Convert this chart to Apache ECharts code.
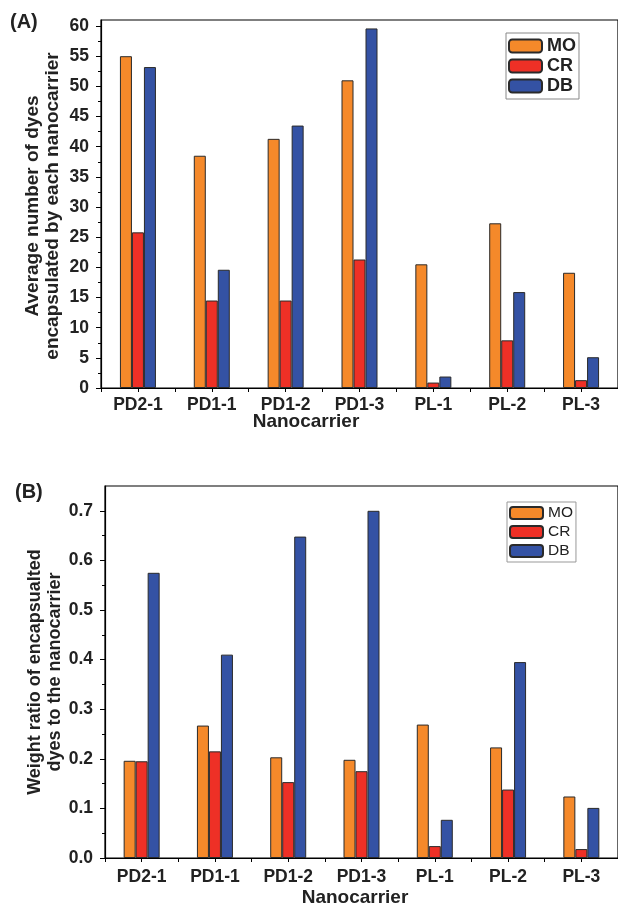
<!DOCTYPE html>
<html>
<head>
<meta charset="utf-8">
<script src="https://cdn.jsdelivr.net/npm/echarts@6/dist/echarts.min.js"></script>
<style>
html,body{margin:0;padding:0;background:#fff;}
#c{width:618px;height:910px;}
</style>
</head>
<body>
<div id="c"></div>
<script>
var categories = ['PD2-1','PD1-1','PD1-2','PD1-3','PL-1','PL-2','PL-3'];
var seriesNames = ['MO','CR','DB'];
// Panel A: average number of dyes encapsulated by each nanocarrier
var numMO = [55.0, 38.5, 41.3, 51.0, 20.5, 27.3, 19.1];
var numCR = [25.8, 14.5, 14.5, 21.3, 0.9, 7.9, 1.3];
var numDB = [53.2, 19.6, 43.5, 59.6, 1.9, 15.9, 5.1];
// Panel B: weight ratio of encapsulated dyes to the nanocarrier
var ratioMO = [0.196, 0.267, 0.203, 0.198, 0.269, 0.223, 0.124];
var ratioCR = [0.195, 0.215, 0.153, 0.175, 0.024, 0.138, 0.018];
var ratioDB = [0.575, 0.410, 0.648, 0.700, 0.077, 0.395, 0.101];
// tick labels
var ticksA = [0,5,10,15,20,25,30,35,40,45,50,55,60];
var ticksB = [0,0.1,0.2,0.3,0.4,0.5,0.6,0.7];

var colors = ['#F5892A','#EE3026','#3452A4'];
var FONT = 'Liberation Sans, Arial, sans-serif';

var chart = echarts.init(document.getElementById('c'), null, {renderer:'canvas'});

function catAxis(gridIndex, withLabels, margin){
  return {
    type:'category', gridIndex:gridIndex, data:categories, position:'bottom',
    boundaryGap:true,
    axisLine:{show:withLabels, lineStyle:{color:'#000', width:1.2}},
    axisTick:{show:true, alignWithLabel:!withLabels, length:4, lineStyle:{color:'#000', width:1}},
    axisLabel:{show:withLabels, color:'#222', fontFamily:FONT, fontWeight:'bold', fontSize:17.5, margin:margin},
    splitLine:{show:false}
  };
}
function valAxis(gridIndex, max, interval, ticks, fmt){
  return {
    type:'value', gridIndex:gridIndex, min:0, max:max, interval:interval,
    axisLine:{show:true, lineStyle:{color:'#000', width:1.2}},
    axisTick:{show:true, length:5, inside:false, customValues:ticks, lineStyle:{color:'#000', width:1}},
    minorTick:{show:true, splitNumber:2, length:3, lineStyle:{color:'#000', width:1}},
    axisLabel:{customValues:ticks, color:'#222', fontFamily:FONT, fontWeight:'bold', fontSize:17.5, margin:12, formatter:fmt},
    splitLine:{show:false}, minorSplitLine:{show:false}
  };
}
function bar(name, data, xi, yi, ci){
  return {
    type:'bar', name:name, data:data, xAxisIndex:xi, yAxisIndex:yi,
    barWidth:12, barGap:'0%',
    itemStyle:{color:colors[ci], borderColor:'#2a2a2a', borderWidth:1},
    emphasis:{disabled:true}
  };
}

var option = {
  animation:false,
  backgroundColor:'#fff',
  grid:[
    {left:101, top:20, width:518, height:368, show:true, borderColor:'#000', borderWidth:1.2, backgroundColor:'transparent'},
    {left:105, top:486, width:522, height:372, show:true, borderColor:'#000', borderWidth:1.2, backgroundColor:'transparent'}
  ],
  xAxis:[ catAxis(0,true,8), catAxis(0,false,8), catAxis(1,true,10), catAxis(1,false,10) ],
  yAxis:[
    valAxis(0, 61, 5, ticksA, function(v){return String(v);}),
    valAxis(1, 0.75, 0.1, ticksB, function(v){return v.toFixed(1);})
  ],
  legend:[
    {data:seriesNames, orient:'vertical', left:506, top:33, itemWidth:33, itemHeight:13, itemGap:2,
     padding:[4,3,4,2], borderColor:'#888', borderWidth:1, backgroundColor:'#fff',
     textStyle:{fontFamily:FONT, fontWeight:'bold', fontSize:18, color:'#222'},
     selectedMode:false},
    {data:seriesNames, orient:'vertical', left:507, top:502, itemWidth:33, itemHeight:12, itemGap:3,
     padding:[3,3,3,2], borderColor:'#999', borderWidth:1, backgroundColor:'#fff',
     textStyle:{fontFamily:FONT, fontWeight:'normal', fontSize:15.5, color:'#222'},
     selectedMode:false}
  ],
  series:[
    bar('MO', numMO, 0, 0, 0),
    bar('CR', numCR, 0, 0, 1),
    bar('DB', numDB, 0, 0, 2),
    bar('MO', ratioMO, 2, 1, 0),
    bar('CR', ratioCR, 2, 1, 1),
    bar('DB', ratioDB, 2, 1, 2)
  ],
  graphic:[
    {type:'text', left:10, top:12, style:{text:'(A)', font:'bold 20px '+FONT, fill:'#222'}},
    {type:'text', left:15, top:482, style:{text:'(B)', font:'bold 20px '+FONT, fill:'#222'}},
    {type:'text', x:43, y:206, rotation:Math.PI/2,
     style:{text:'Average number of dyes\nencapsulated by each nanocarrier', font:'bold 19px '+FONT,
            fill:'#222', align:'center', verticalAlign:'middle', lineHeight:20}},
    {type:'text', x:45, y:672, rotation:Math.PI/2,
     style:{text:'Weight ratio of encapsualted\ndyes to the nanocarrier', font:'bold 18px '+FONT,
            fill:'#222', align:'center', verticalAlign:'middle', lineHeight:20}},
    {type:'text', x:306, y:422,
     style:{text:'Nanocarrier', font:'bold 19px '+FONT, fill:'#222', align:'center', verticalAlign:'middle'}},
    {type:'text', x:355, y:898,
     style:{text:'Nanocarrier', font:'bold 19px '+FONT, fill:'#222', align:'center', verticalAlign:'middle'}}
  ]
};
chart.setOption(option);
</script>
</body>
</html>
